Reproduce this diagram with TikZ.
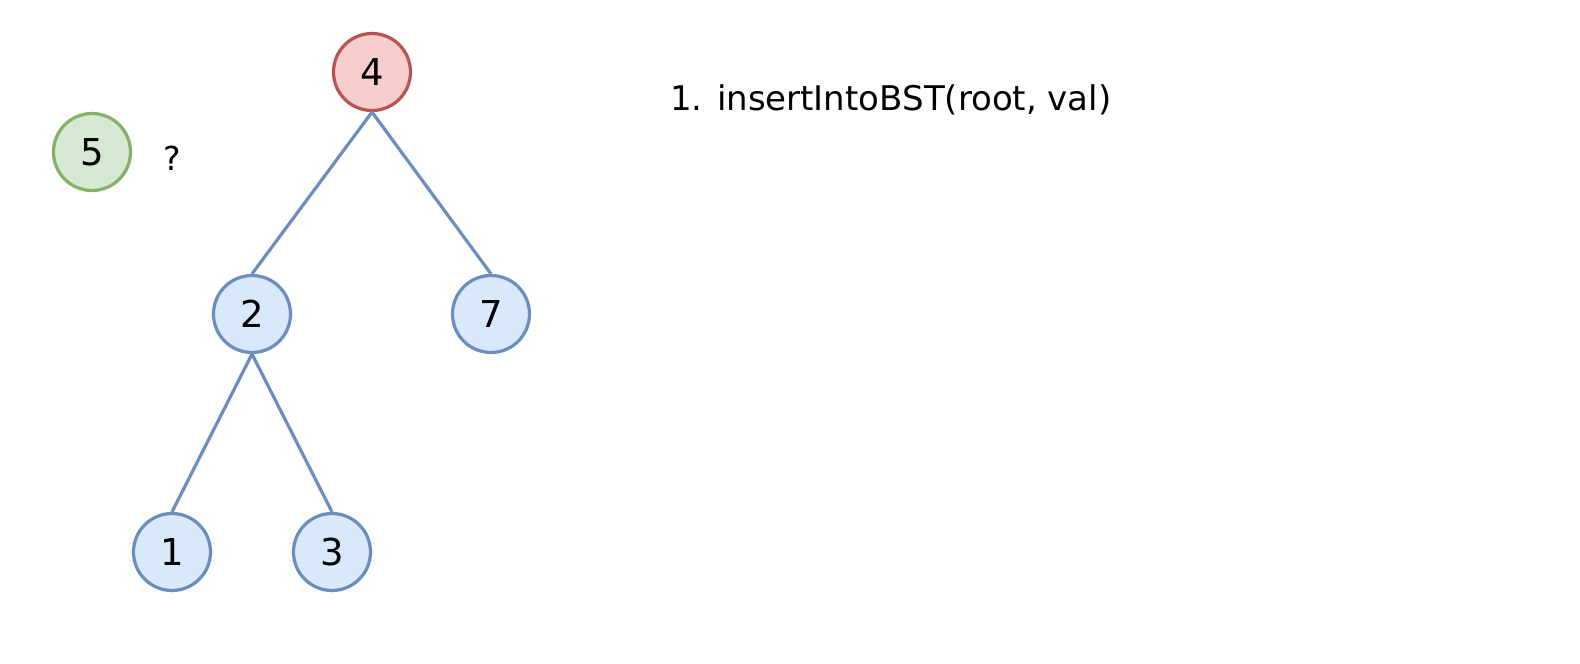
\documentclass[tikz,border=0pt]{standalone}
\usepackage{fontspec}
\setmainfont{DejaVu Sans}
\definecolor{redfill}{HTML}{F8CECC}
\definecolor{redline}{HTML}{B85450}
\definecolor{greenfill}{HTML}{D5E8D4}
\definecolor{greenline}{HTML}{82B366}
\definecolor{bluefill}{HTML}{DAE8FC}
\definecolor{blueline}{HTML}{6C8EBF}
\begin{document}
\begin{tikzpicture}[x=1pt,y=-1pt,
  tnode/.style={circle,draw=blueline,fill=bluefill,line width=3.2pt,minimum size=77pt,inner sep=0pt,font=\fontsize{37}{40}\selectfont},
  rootnode/.style={tnode,draw=redline,fill=redfill},
  newnode/.style={tnode,draw=greenline,fill=greenfill},
  edge/.style={draw=blueline,line width=3.2pt}]
\useasboundingbox (0,0) rectangle (1580,664);
\fill[white] (0,0) rectangle (1580,664);
\node[rootnode] (n4) at (372,72) {4};
\node[newnode] (n5) at (92,152) {5};
\node[font=\fontsize{33}{38}\selectfont] (q) at (172,158) {?};
\node[anchor=west,font=\fontsize{34}{40}\selectfont,inner sep=0pt] (t) at (670,100) {1. insertIntoBST(root, val)};
\node[tnode] (n2) at (252,314) {2};
\node[tnode] (n7) at (491,314) {7};
\node[tnode] (n1) at (172,552) {1};
\node[tnode] (n3) at (332,552) {3};
\draw[edge] (n4.south) -- (n2.north);
\draw[edge] (n4.south) -- (n7.north);
\draw[edge] (n2.south) -- (n1.north);
\draw[edge] (n2.south) -- (n3.north);
\end{tikzpicture}
\end{document}
